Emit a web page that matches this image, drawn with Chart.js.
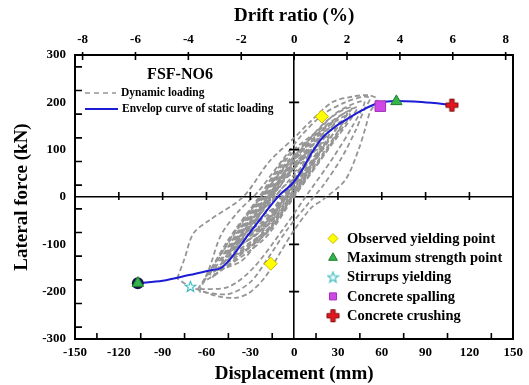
<!DOCTYPE html>
<html>
<head>
<meta charset="utf-8">
<script src="https://cdn.jsdelivr.net/npm/chart.js@4.4.1/dist/chart.umd.min.js"></script>
<style>
  html, body { margin: 0; padding: 0; background: #fff; }
  canvas { display: block; }
</style>
</head>
<body>
<canvas id="hyst" width="529" height="385"></canvas>
<script>
// axis ticks
var dispTicks = [-150, -120, -90, -60, -30, 0, 30, 60, 90, 120, 150];
var forceTicks = [-300, -200, -100, 0, 100, 200, 300];
var driftTicks = [-8, -6, -4, -2, 0, 2, 4, 6, 8];
var dispMinor = [-135, -105, -75, -45, -15, 15, 45, 75, 105, 135];
var forceMinor = [-275, -225, -175, -125, -75, -25, 25, 75, 125, 175, 225, 275];
var mmPerPercent = 18.1;

// dynamic loading cycles [displacement mm, force kN]
var loop00 = [[-20,-35],[-17,-15],[-12,5],[-6,25],[2,40],[-2,20],[-6,0],[-11,-18],[-20,-35]];
var loop01 = [[-27,-55],[-23,-30],[-16,0],[-9,30],[4,60],[-1,30],[-8,0],[-15,-30],[-27,-55]];
var loop02 = [[-33,-75],[-27,-40],[-17,0],[-8,40],[10,80],[3,40],[-7,0],[-16,-40],[-33,-75]];
var loop03 = [[-39,-95],[-30,-50],[-18,0],[-6,50],[16,100],[6,50],[-6,0],[-18,-50],[-39,-95]];
var loop04 = [[-42,-105],[-32,-55],[-19,0],[-6,55],[20,115],[8,55],[-5,0],[-18,-55],[-42,-105]];
var loop04b = [[-40,-110],[-30,-62],[-16,-5],[-4,48],[18,112],[10,60],[-2,5],[-15,-50],[-40,-110]];
var loop05 = [[-46,-120],[-34,-60],[-20,0],[-5,65],[24,130],[11,65],[-4,0],[-18,-60],[-46,-120]];
var loop06 = [[-50,-135],[-37,-70],[-21,0],[-5,70],[28,145],[13,70],[-3,0],[-19,-70],[-50,-135]];
var loop06b = [[-48,-140],[-35,-80],[-18,-5],[-2,62],[26,150],[15,80],[0,8],[-16,-62],[-48,-140]];
var loop07 = [[-54,-150],[-39,-75],[-22,0],[-3,80],[33,160],[17,80],[-2,0],[-19,-75],[-54,-150]];
var loop08 = [[-58,-165],[-42,-80],[-23,0],[-2,90],[38,175],[20,90],[-1,0],[-20,-80],[-58,-165]];
var loop08b = [[-56,-170],[-40,-95],[-20,-10],[0,80],[36,180],[24,105],[2,12],[-17,-70],[-56,-170]];
var loop09 = [[-62,-180],[-45,-90],[-24,0],[-2,95],[43,190],[22,95],[0,0],[-21,-90],[-62,-180]];
var loop10 = [[-66,-195],[-50,-120],[-30,-30],[-10,50],[10,120],[30,180],[48,202],[40,150],[26,80],[10,10],[-8,-70],[-28,-150],[-45,-190],[-66,-195]];
var loop11 = [[-65,-200],[-58,-150],[-50,-80],[-38,-30],[-25,10],[-10,70],[5,130],[20,175],[35,200],[48,212],[52,208],[48,185],[42,140],[32,80],[20,25],[8,-20],[-5,-70],[-18,-130],[-30,-180],[-45,-205],[-65,-200]];
var loop12 = [[-80,-172],[-75,-130],[-69,-77],[-58,-49],[-35,0],[-17,75],[0,125],[10,156],[26,200],[40,212],[51,215],[57,206],[52,180],[49,148],[44,99],[35,36],[20,-5],[12,-22],[0,-70],[-10,-120],[-20,-170],[-31,-203],[-40,-213],[-52,-210],[-62,-200],[-72,-188],[-80,-172]];
var loopA = [[-30,-80],[-26,-55],[-24,-40],[-19,-20],[-15,5],[-10,20],[-6,42],[0,60],[6,85],[12,100],[8,80],[4,55],[0,35],[-4,15],[-9,-10],[-14,-30],[-20,-55],[-30,-80]];
var loopB = [[-36,-100],[-30,-70],[-27,-55],[-22,-30],[-18,-12],[-12,15],[-8,30],[-2,55],[4,78],[10,100],[18,125],[14,100],[10,80],[4,50],[-1,25],[-6,0],[-12,-25],[-18,-50],[-26,-80],[-36,-100]];
var loopC = [[-44,-130],[-38,-100],[-33,-75],[-27,-50],[-22,-25],[-16,0],[-11,25],[-5,55],[2,85],[9,110],[15,130],[22,150],[28,160],[22,130],[16,105],[9,75],[3,45],[-3,15],[-9,-15],[-15,-45],[-22,-75],[-30,-105],[-44,-130]];
var loopD = [[-52,-155],[-45,-125],[-40,-100],[-34,-70],[-28,-45],[-21,-15],[-15,15],[-8,45],[-1,75],[6,105],[14,135],[22,160],[31,180],[40,190],[34,165],[27,135],[19,100],[12,65],[5,30],[-2,0],[-9,-30],[-17,-65],[-26,-100],[-36,-135],[-52,-155]];
var loopE = [[-25,-70],[-22,-45],[-18,-25],[-14,-5],[-10,12],[-5,30],[1,50],[7,70],[3,52],[-1,35],[-5,15],[-10,-5],[-15,-30],[-25,-70]];

// envelope of static loading
var envDisp = [-107, -90, -72, -56, -50, -30, -10, -1, 6, 12, 19, 28, 37, 47, 56, 62, 70, 82, 94, 108];
var envForce = [-182, -177, -165, -154, -150, -74, 4, 29, 60, 93, 124, 148, 166, 184, 197, 201, 203, 202, 199, 194];

// damage points
var yieldPts = [[19, 170], [-16, -141]];
var maxPts = [[70, 202], [-107, -182]];
var stirrupPts = [[-71, -189]];
var spallPts = [[59, 192]];
var crushPts = [[108, 194]];

var serif = "'Liberation Serif', 'Times New Roman', serif";
var tickFont = { family: serif, size: 13, weight: 'bold' };
var titleFont = { family: serif, size: 19, weight: 'bold' };

function pts(arr) {
  return arr.map(function (p) { return { x: p[0], y: p[1] }; });
}

function starImage() {
  var c = document.createElement('canvas');
  c.width = 13; c.height = 13;
  var g = c.getContext('2d');
  g.beginPath();
  for (var i = 0; i < 10; i++) {
    var r = i % 2 ? 2.3 : 5.5;
    var a = -Math.PI / 2 + i * Math.PI / 5;
    g.lineTo(6.5 + r * Math.cos(a), 6.9 + r * Math.sin(a));
  }
  g.closePath();
  g.fillStyle = '#eafcff';
  g.fill();
  g.strokeStyle = '#3ab8bd';
  g.lineWidth = 1.1;
  g.stroke();
  return c;
}

function plusImage() {
  var c = document.createElement('canvas');
  c.width = 15; c.height = 15;
  var g = c.getContext('2d');
  var p = [[5.3,1.5],[9.7,1.5],[9.7,5.3],[13.5,5.3],[13.5,9.7],[9.7,9.7],[9.7,13.5],[5.3,13.5],[5.3,9.7],[1.5,9.7],[1.5,5.3],[5.3,5.3]];
  g.beginPath();
  p.forEach(function (q) { g.lineTo(q[0], q[1]); });
  g.closePath();
  g.fillStyle = '#e3161e';
  g.fill();
  g.strokeStyle = '#7a0a0a';
  g.lineWidth = 1;
  g.stroke();
  return c;
}

var loops = [loop12, loop11, loop10, loop09, loop08b, loop08, loopD, loop07, loop06b, loopC, loop06, loop05, loopB,
             loop04b, loop04, loop03, loopA, loop02, loopE, loop01, loop00];

var datasets = loops.map(function (l) {
  return {
    label: 'Dynamic loading',
    data: pts(l),
    showLine: true,
    borderColor: '#959595',
    borderWidth: 1.8,
    borderDash: [5, 3],
    pointRadius: 0,
    tension: 0.3,
    fill: false,
    order: 3
  };
});

datasets.push({
  label: 'Envelop curve of static loading',
  data: envDisp.map(function (d, i) { return { x: d, y: envForce[i] }; }),
  showLine: true,
  borderColor: '#1c1cd6',
  borderWidth: 2,
  cubicInterpolationMode: 'monotone',
  pointRadius: function (c) { return c.dataIndex === 0 ? 6 : 0; },
  pointBackgroundColor: '#15154f',
  pointBorderWidth: 0,
  order: 2
});

var markers = [
  { label: 'Observed yielding point', data: pts(yieldPts), pointStyle: 'rectRot', pointRadius: 6.5, pointBackgroundColor: '#ffff00', pointBorderColor: '#c9b800' },
  { label: 'Maximum strength point', data: pts(maxPts), pointStyle: 'triangle', pointRadius: 6.5, pointBackgroundColor: '#35b44a', pointBorderColor: '#1d7d2d' },
  { label: 'Stirrups yielding', data: pts(stirrupPts), pointStyle: starImage(), pointRadius: 6, pointBackgroundColor: '#eafcff', pointBorderColor: '#3ab8bd' },
  { label: 'Concrete spalling', data: pts(spallPts), pointStyle: 'rect', pointRadius: 7.5, pointBackgroundColor: '#cf48e6', pointBorderColor: '#a030b8' },
  { label: 'Concrete crushing', data: pts(crushPts), pointStyle: plusImage(), pointRadius: 7, pointBackgroundColor: '#e3161e', pointBorderColor: '#7a0a0a' }
];
markers.forEach(function (m) {
  m.showLine = false;
  m.pointBorderWidth = 1;
  m.order = 1;
  datasets.push(m);
});

var tickPlugin = {
  id: 'innerTicks',
  afterDatasetsDraw: function (chart) {
    var ctx = chart.ctx, a = chart.chartArea, s = chart.scales;
    var x0 = s.x.getPixelForValue(0), y0 = s.y.getPixelForValue(0);
    ctx.save();
    ctx.strokeStyle = '#000';
    ctx.lineWidth = 1.6;
    ctx.beginPath();
    dispMinor.forEach(function (v) {
      var px = s.x.getPixelForValue(v);
      ctx.moveTo(px, a.bottom); ctx.lineTo(px, a.bottom - 6);
    });
    forceMinor.forEach(function (v) {
      var py = s.y.getPixelForValue(v);
      ctx.moveTo(a.left, py); ctx.lineTo(a.left + 7, py);
    });
    driftTicks.forEach(function (v) {
      var px = s.x2.getPixelForValue(v);
      ctx.moveTo(px, a.top - 3); ctx.lineTo(px, a.top + 5);
    });
    dispTicks.forEach(function (v) {
      if (v === 0 || Math.abs(v) === 150) return;
      var px = s.x.getPixelForValue(v);
      ctx.moveTo(px, y0 - 5); ctx.lineTo(px, y0 + 3);
    });
    forceTicks.forEach(function (v) {
      if (v === 0 || Math.abs(v) === 300) return;
      var py = s.y.getPixelForValue(v);
      ctx.moveTo(x0 - 5, py); ctx.lineTo(x0 + 5, py);
    });
    ctx.stroke();
    ctx.restore();
  }
};

var legendPlugin = {
  id: 'legends',
  afterDraw: function (chart) {
    var ctx = chart.ctx;
    ctx.save();
    ctx.textBaseline = 'middle';
    ctx.fillStyle = '#000';
    ctx.textAlign = 'center';
    ctx.font = 'bold 16px ' + serif;
    ctx.fillText('FSF-NO6', 180, 75);

    ctx.strokeStyle = '#959595';
    ctx.lineWidth = 1.6;
    ctx.setLineDash([5, 4]);
    ctx.beginPath(); ctx.moveTo(85, 93); ctx.lineTo(116, 93); ctx.stroke();
    ctx.setLineDash([]);
    ctx.strokeStyle = '#1c1cd6';
    ctx.lineWidth = 2;
    ctx.beginPath(); ctx.moveTo(85, 109); ctx.lineTo(118, 109); ctx.stroke();

    ctx.textAlign = 'left';
    ctx.font = 'bold 11.5px ' + serif;
    ctx.fillText('Dynamic loading', 121, 93);
    ctx.fillText('Envelop curve of static loading', 122, 109);

    ctx.font = 'bold 14.5px ' + serif;
    markers.forEach(function (m, i) {
      var yy = 238.5 + i * 19.3;
      ctx.fillStyle = m.pointBackgroundColor;
      ctx.strokeStyle = m.pointBorderColor;
      ctx.lineWidth = 1;
      Chart.helpers.drawPoint(ctx, { pointStyle: m.pointStyle, radius: 5, rotation: 0, borderWidth: 1 }, 333, yy);
      ctx.fillStyle = '#000';
      ctx.fillText(m.label, 347, yy + 0.5);
    });
    ctx.restore();
  }
};

function zeroLine(c) {
  return c.tick && c.tick.value === 0 ? '#000' : 'rgba(0,0,0,0)';
}

new Chart(document.getElementById('hyst'), {
  type: 'scatter',
  data: { datasets: datasets },
  options: {
    responsive: false,
    animation: false,
    devicePixelRatio: 1,
    layout: { padding: { left: 0, right: 14, top: 0, bottom: 0 } },
    plugins: { legend: { display: false }, tooltip: { enabled: false } },
    scales: {
      x: {
        type: 'linear', position: 'bottom', min: -150, max: 150,
        afterBuildTicks: function (sc) { sc.ticks = dispTicks.map(function (v) { return { value: v }; }); },
        afterFit: function (sc) { sc.height = 46; },
        grid: { color: zeroLine, lineWidth: 1.6, drawTicks: false },
        border: { color: '#000', width: 2 },
        ticks: { color: '#000', font: tickFont, padding: 6, maxRotation: 0, autoSkip: false },
        title: { display: true, text: 'Displacement (mm)', color: '#000', font: titleFont, padding: { top: 0, bottom: 0 } }
      },
      x2: {
        type: 'linear', position: 'top', min: -150 / mmPerPercent, max: 150 / mmPerPercent,
        afterBuildTicks: function (sc) { sc.ticks = driftTicks.map(function (v) { return { value: v }; }); },
        afterFit: function (sc) { sc.height = 55; },
        grid: { display: false, drawTicks: false },
        border: { color: '#000', width: 2 },
        ticks: { color: '#000', font: tickFont, padding: 8, maxRotation: 0, autoSkip: false },
        title: { display: true, text: 'Drift ratio (%)', color: '#000', font: titleFont, padding: { top: 5, bottom: 0 } }
      },
      y: {
        type: 'linear', position: 'left', min: -300, max: 300,
        afterBuildTicks: function (sc) { sc.ticks = forceTicks.map(function (v) { return { value: v }; }); },
        afterFit: function (sc) { sc.width = 75; },
        grid: { color: zeroLine, lineWidth: 1.6, drawTicks: false },
        border: { color: '#000', width: 2 },
        ticks: { color: '#000', font: tickFont, padding: 9, autoSkip: false },
        title: { display: true, text: 'Lateral force (kN)', color: '#000', font: titleFont, padding: { top: 11, bottom: 0 } }
      },
      yR: {
        type: 'linear', position: 'right', min: -300, max: 300,
        afterFit: function (sc) { sc.width = 0; },
        grid: { display: false, drawTicks: false },
        border: { color: '#000', width: 2 },
        ticks: { display: false }
      }
    }
  },
  plugins: [tickPlugin, legendPlugin]
});
</script>
</body>
</html>
